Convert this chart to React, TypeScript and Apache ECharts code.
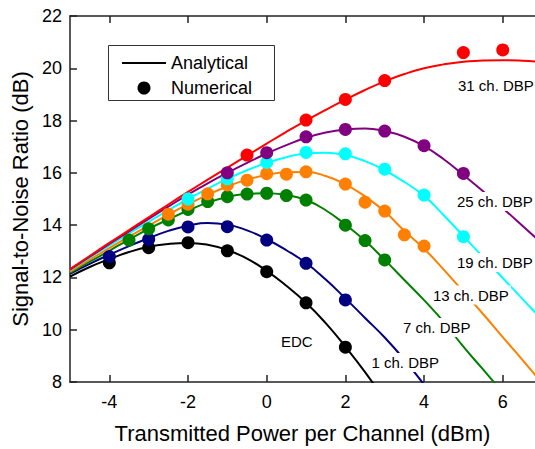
import React, { useEffect, useRef } from "react";
import * as echarts from "echarts";

// Analytical curves sampled every 0.5 dBm starting at -5 dBm
const curveX = [-5, -4.5, -4, -3.5, -3, -2.5, -2, -1.5, -1, -0.5, 0, 0.5, 1, 1.5, 2, 2.5, 3, 3.5, 4, 4.5, 5, 5.5, 6, 6.5, 7];
const edcCurve = [12.03, 12.4, 12.7, 12.97, 13.17, 13.28, 13.32, 13.25, 13.05, 12.72, 12.25, 11.68, 11.03, 10.25, 9.35, 8.38, 7.3];
const ch1Curve = [12.14, 12.52, 12.87, 13.2, 13.5, 13.78, 13.98, 14.08, 14.02, 13.8, 13.46, 13.04, 12.55, 11.92, 11.2, 10.45, 9.7, 8.85, 7.9, 6.9];
const ch7Curve = [12.17, 12.6, 13.02, 13.45, 13.86, 14.22, 14.56, 14.86, 15.08, 15.19, 15.22, 15.15, 14.96, 14.57, 14.02, 13.4, 12.67, 11.9, 11.13, 10.3, 9.35, 8.48, 7.6, 6.7];
const ch13Curve = [12.22, 12.68, 13.12, 13.56, 13.98, 14.4, 14.8, 15.16, 15.48, 15.74, 15.92, 16.02, 16.03, 15.88, 15.56, 15.1, 14.52, 13.78, 13.1, 12.3, 11.45, 10.6, 9.72, 8.85, 7.95];
const ch19Curve = [12.28, 12.76, 13.22, 13.68, 14.13, 14.57, 15.0, 15.4, 15.77, 16.1, 16.38, 16.6, 16.74, 16.77, 16.68, 16.45, 16.1, 15.65, 15.12, 14.38, 13.58, 12.78, 11.98, 11.18, 10.38];
const ch25Curve = [12.3, 12.79, 13.28, 13.76, 14.24, 14.71, 15.17, 15.6, 16.0, 16.38, 16.74, 17.06, 17.34, 17.54, 17.66, 17.7, 17.6, 17.38, 17.02, 16.52, 15.92, 15.3, 14.65, 13.98, 13.3];
const ch31Curve = [12.32, 12.82, 13.32, 13.81, 14.3, 14.79, 15.27, 15.74, 16.2, 16.66, 17.12, 17.57, 18.0, 18.41, 18.8, 19.17, 19.5, 19.78, 20.0, 20.15, 20.25, 20.3, 20.31, 20.29, 20.24];

// Numerical points
const edcX = [-4, -3, -2, -1, 0, 1, 2];
const edcY = [12.56, 13.14, 13.33, 13.02, 12.22, 11.03, 9.33];
const ch1X = [-4, -3, -2, -1, 0, 1, 2];
const ch1Y = [12.8, 13.46, 13.93, 13.94, 13.43, 12.54, 11.14];
const ch7X = [-3.5, -3, -2.5, -2, -1.5, -1, -0.5, 0, 0.5, 1, 2, 2.5, 3];
const ch7Y = [13.43, 13.86, 14.2, 14.6, 14.9, 15.09, 15.19, 15.22, 15.13, 14.96, 14.0, 13.41, 12.67];
const ch13X = [-2.5, -2, -1.5, -1, -0.5, 0, 0.5, 1, 2, 2.5, 3, 3.5, 4];
const ch13Y = [14.42, 14.8, 15.2, 15.54, 15.72, 15.97, 15.95, 16.04, 15.57, 14.88, 14.54, 13.63, 13.2];
const ch19X = [-2, -1, 0, 1, 2, 3, 4, 5];
const ch19Y = [15.0, 15.77, 16.4, 16.78, 16.73, 16.14, 15.15, 13.56];
const ch25X = [-1, 0, 1, 2, 3, 4, 5];
const ch25Y = [16.0, 16.77, 17.38, 17.66, 17.6, 17.04, 15.98];
const ch31X = [-0.5, 1, 2, 3, 5, 6];
const ch31Y = [16.68, 18.02, 18.81, 19.53, 20.6, 20.7];

const xTicks = [-4, -2, 0, 2, 4, 6];
const seriesNames = ["EDC", "1 ch. DBP", "7 ch. DBP", "13 ch. DBP", "19 ch. DBP", "25 ch. DBP", "31 ch. DBP"];
const colors = ["#000000", "#000080", "#008000", "#ff8000", "#00ffff", "#800080", "#ff0000"];

const FONT = '"Liberation Sans", Arial, Helvetica, sans-serif';

export default function App() {
  const ref = useRef<HTMLDivElement>(null);

  useEffect(() => {
    if (!ref.current) return;
    const chart = echarts.init(ref.current, null, { renderer: "svg" });

    const curves = [edcCurve, ch1Curve, ch7Curve, ch13Curve, ch19Curve, ch25Curve, ch31Curve];
    const ptsX = [edcX, ch1X, ch7X, ch13X, ch19X, ch25X, ch31X];
    const ptsY = [edcY, ch1Y, ch7Y, ch13Y, ch19Y, ch25Y, ch31Y];

    const lineSeries = curves.map((c, i) => ({
      name: seriesNames[i] + " analytical",
      type: "line",
      data: c.map((y, j) => [curveX[j], y]),
      smooth: true,
      symbol: "none",
      showSymbol: false,
      clip: true,
      silent: true,
      z: 2,
      lineStyle: { color: colors[i], width: 2 },
    }));
    const scatterSeries = ptsX.map((xs, i) => ({
      name: seriesNames[i] + " numerical",
      type: "scatter",
      data: xs.map((x, j) => [x, ptsY[i][j]]),
      symbol: "circle",
      symbolSize: 13,
      silent: true,
      z: 3,
      itemStyle: { color: colors[i], opacity: 1 },
    }));

    const axisLineStyle = { color: "#222", width: 1.5 };

    const labelDefs = [
      { t: "31 ch. DBP", x: 458, y: 85 },
      { t: "25 ch. DBP", x: 457, y: 201.5 },
      { t: "19 ch. DBP", x: 457, y: 262.5 },
      { t: "13 ch. DBP", x: 433, y: 295 },
      { t: "7 ch. DBP", x: 403, y: 327.5 },
      { t: "1 ch. DBP", x: 371.5, y: 362.5 },
      { t: "EDC", x: 281, y: 341.5 },
    ];

    const option: any = {
      animation: false,
      backgroundColor: "#ffffff",
      textStyle: { fontFamily: FONT },
      grid: { left: 70, top: 16, right: 0, bottom: 67, containLabel: false },
      xAxis: [
        {
          type: "value",
          position: "bottom",
          min: -5,
          max: 6.82,
          name: "Transmitted Power per Channel (dBm)",
          nameLocation: "middle",
          nameGap: 40,
          nameTextStyle: { fontSize: 22, color: "#000", fontFamily: FONT },
          axisLine: { show: true, onZero: false, lineStyle: axisLineStyle },
          axisTick: { show: true, inside: true, length: 7, customValues: xTicks, lineStyle: axisLineStyle },
          axisLabel: { show: true, customValues: xTicks, fontSize: 18, color: "#000", margin: 11, fontFamily: FONT },
          splitLine: { show: false },
        },
        {
          type: "value",
          position: "top",
          min: -5,
          max: 6.82,
          axisLine: { show: true, onZero: false, lineStyle: axisLineStyle },
          axisTick: { show: true, inside: true, length: 7, customValues: xTicks, lineStyle: axisLineStyle },
          axisLabel: { show: false },
          splitLine: { show: false },
        },
      ],
      yAxis: {
        type: "value",
        min: 8,
        max: 22,
        interval: 2,
        name: "Signal-to-Noise Ratio (dB)",
        nameLocation: "middle",
        nameGap: 34,
        nameTextStyle: { fontSize: 22, color: "#000", fontFamily: FONT },
        axisLine: { show: true, onZero: false, lineStyle: axisLineStyle },
        axisTick: { show: true, inside: true, length: 7, lineStyle: axisLineStyle },
        axisLabel: { fontSize: 18, color: "#000", margin: 8, fontFamily: FONT },
        splitLine: { show: false },
      },
      series: [...lineSeries, ...scatterSeries],
      graphic: [
        ...labelDefs.map((d) => ({
          type: "text",
          x: d.x - 2,
          y: d.y,
          z: 100,
          silent: true,
          style: {
            text: d.t,
            fill: "#000",
            font: `15px ${FONT}`,
            verticalAlign: "middle",
            align: "left",
            backgroundColor: "#ffffff",
            padding: [2, 2, 2, 2],
          },
        })),
        {
          type: "rect",
          z: 100,
          silent: true,
          shape: { x: 108.5, y: 45.5, width: 166, height: 55 },
          style: { fill: "#ffffff", stroke: "#333", lineWidth: 1 },
        },
        {
          type: "line",
          z: 101,
          silent: true,
          shape: { x1: 122, y1: 63, x2: 166, y2: 63 },
          style: { stroke: "#000", lineWidth: 2 },
        },
        {
          type: "circle",
          z: 101,
          silent: true,
          shape: { cx: 144, cy: 88, r: 6.5 },
          style: { fill: "#000" },
        },
        {
          type: "text",
          z: 101,
          silent: true,
          x: 171,
          y: 63,
          style: { text: "Analytical", fill: "#000", font: `18px ${FONT}`, verticalAlign: "middle", align: "left" },
        },
        {
          type: "text",
          z: 101,
          silent: true,
          x: 171,
          y: 88,
          style: { text: "Numerical", fill: "#000", font: `18px ${FONT}`, verticalAlign: "middle", align: "left" },
        },
      ],
    };

    chart.setOption(option);
    return () => chart.dispose();
  }, []);

  return (
    <div
      ref={ref}
      style={{ position: "absolute", left: 0, top: 0, width: 535, height: 449, background: "#fff" }}
    />
  );
}
